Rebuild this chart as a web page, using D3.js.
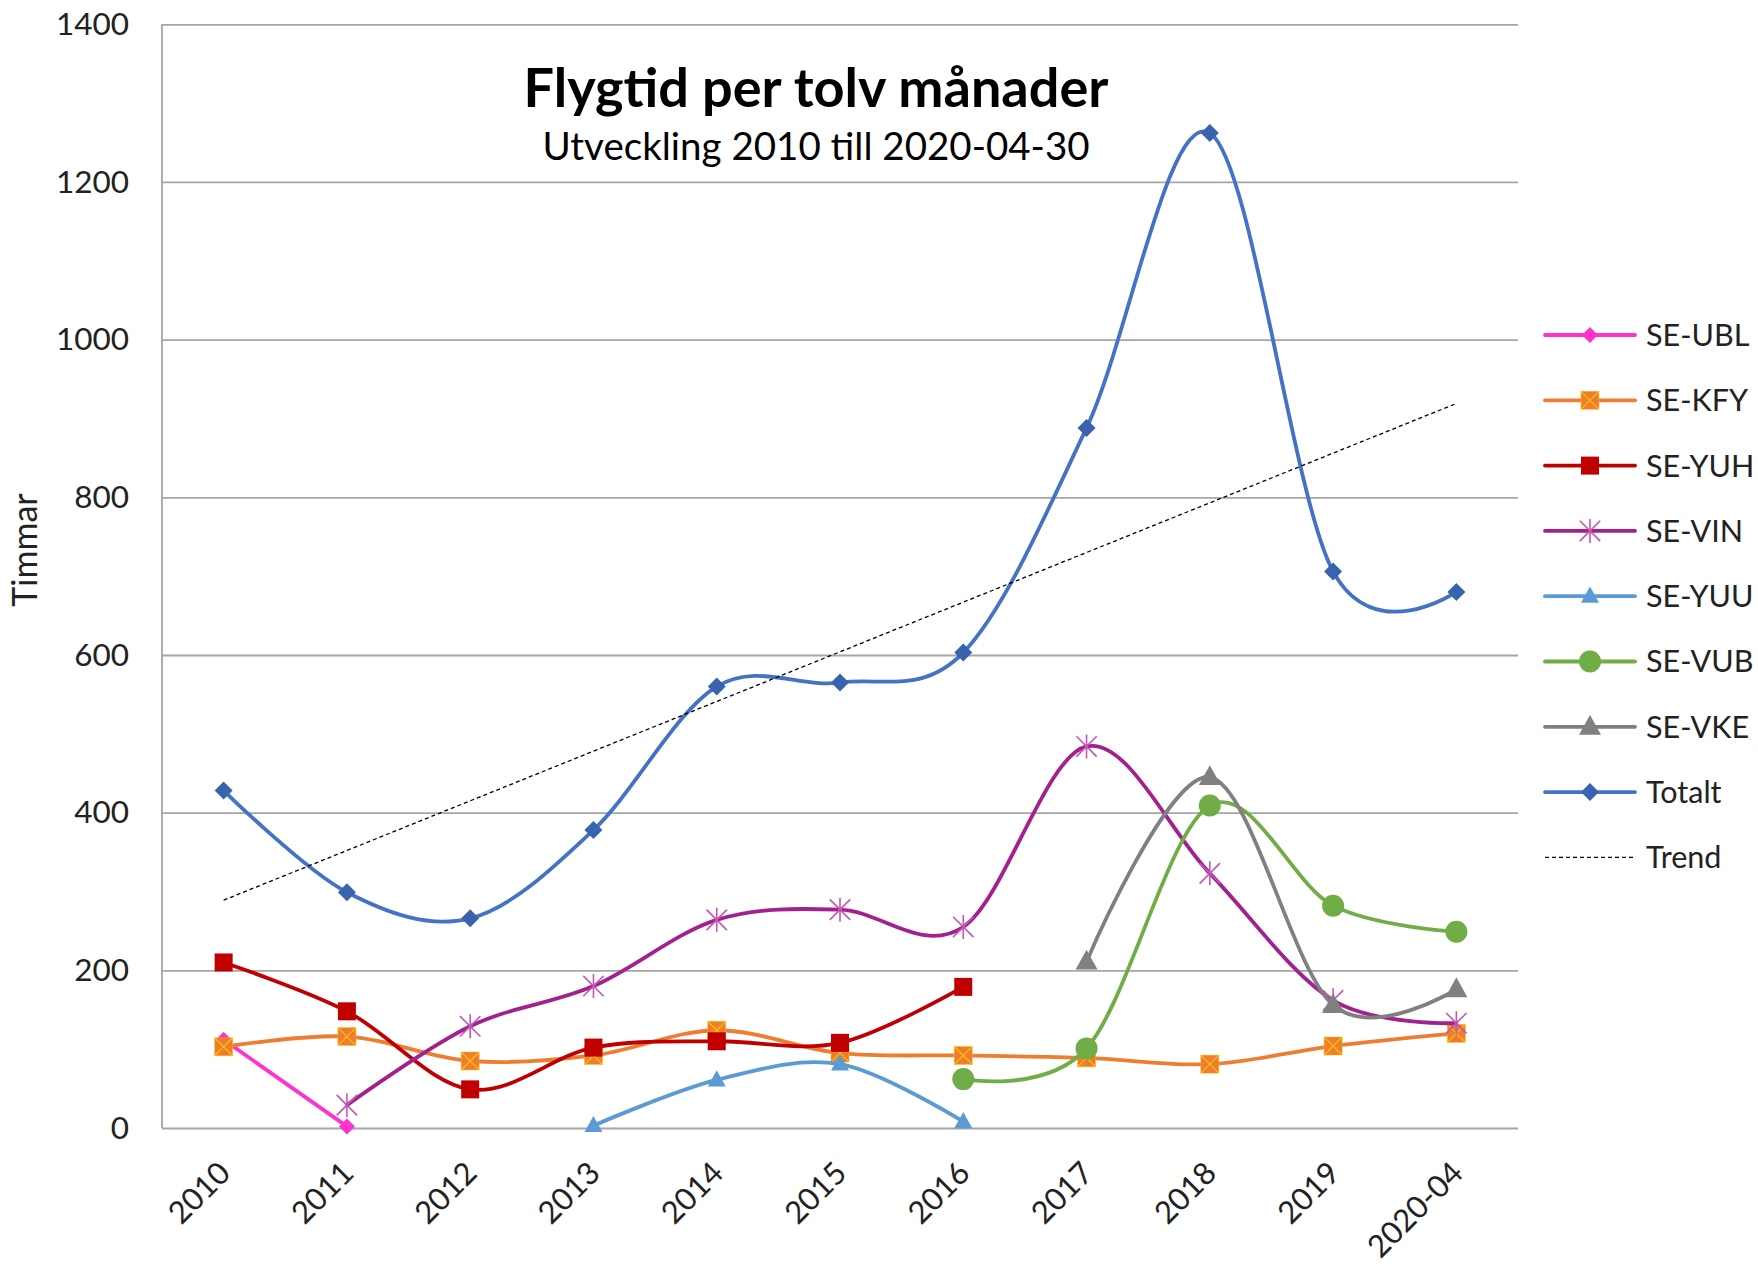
<!DOCTYPE html>
<html>
<head>
<meta charset="utf-8">
<script src="https://cdn.jsdelivr.net/npm/d3@7"></script>
<style>
  html, body { margin: 0; padding: 0; background: #fff; }
  svg { display: block; font-family: Lato, "Open Sans", sans-serif; }
</style>
</head>
<body>
<svg id="chart" width="1758" height="1268"></svg>
<script>
// ---------- data ----------
const categories = ["2010", "2011", "2012", "2013", "2014", "2015", "2016", "2017", "2018", "2019", "2020-04"];
const yTicks = [0, 200, 400, 600, 800, 1000, 1200, 1400];
const seUBL  = [112, 2, null, null, null, null, null, null, null, null, null];
const seKFY  = [103, 116, 85, 92, 124, 95, 92, 89, 81, 104, 120];
const seYUH  = [210, 148, 49, 102, 110, 108, 179, null, null, null, null];
const seVIN  = [null, 29, 129, 180, 264, 277, 255, 484, 323, 162, 133];
const seYUU  = [null, null, null, 3, 61, 81, 8, null, null, null, null];
const seVUB  = [null, null, null, null, null, null, 62, 101, 409, 282, 249];
const seVKE  = [null, null, null, null, null, null, null, 211, 445, 156, 176];
const totalt = [428, 299, 266, 378, 560, 565, 603, 888, 1262, 706, 680];
const trendEnds = [289, 919];            // linear trend of Totalt, value at 2010 and at 2020-04
const seriesNames = ["SE-UBL", "SE-KFY", "SE-YUH", "SE-VIN", "SE-YUU", "SE-VUB", "SE-VKE", "Totalt"];
const titleText = "Flygtid per tolv månader";
const subtitleText = "Utveckling 2010 till 2020-04-30";
const yLabel = "Timmar";
const trendName = "Trend";

// ---------- styling ----------
const seriesValues = [seUBL, seKFY, seYUH, seVIN, seYUU, seVUB, seVKE, totalt];
const styles = [
  { color: "#FF33CC", marker: "diamond",  mfill: "#FF33CC", ms: 8 },
  { color: "#ED7D31", marker: "squareX",  mfill: "#ED7D31", ms: 9, xcolor: "#FFC000" },
  { color: "#C00000", marker: "square",   mfill: "#C00000", ms: 9 },
  { color: "#A2218F", marker: "star",     mfill: "#C457B4", ms: 12 },
  { color: "#5B9BD5", marker: "triangle", mfill: "#5B9BD5", ms: 9 },
  { color: "#70AD47", marker: "circle",   mfill: "#70AD47", ms: 11 },
  { color: "#808080", marker: "triangle", mfill: "#808080", ms: 11 },
  { color: "#4472C4", marker: "diamond",  mfill: "#3A63AD", ms: 9 }
];

const W = 1758, H = 1268;
const m = { left: 162, right: 1518, top: 24.3, bottom: 1128 };
const svg = d3.select("#chart");

const x = d3.scalePoint().domain(categories).range([m.left, m.right]).padding(0.5);
const y = d3.scaleLinear().domain([0, 1400]).range([m.bottom, m.top]);

// gridlines + y labels
const yAxis = d3.axisLeft(y).tickValues(yTicks).tickSize(-(m.right - m.left)).tickPadding(33).tickFormat(d3.format("d"));
const gy = svg.append("g").attr("transform", `translate(${m.left},0)`).call(yAxis);
gy.select(".domain").remove();
gy.selectAll(".tick line").attr("stroke", "#A6A6A6").attr("stroke-width", 1.8);
gy.selectAll(".tick text").attr("font-size", 31.5).attr("fill", "#222").attr("font-family", "Lato");

// left axis line
svg.append("line").attr("x1", m.left).attr("x2", m.left).attr("y1", m.top).attr("y2", m.bottom)
  .attr("stroke", "#A6A6A6").attr("stroke-width", 1.8);

// x labels
const xAxis = d3.axisBottom(x).tickSize(0).tickPadding(0);
const gx = svg.append("g").attr("transform", `translate(0,${m.bottom})`).call(xAxis);
gx.select(".domain").remove();
gx.selectAll(".tick text")
  .attr("font-size", 31).attr("fill", "#222").attr("font-family", "Lato")
  .attr("text-anchor", "end")
  .attr("dy", 0)
  .attr("transform", "translate(8,47) rotate(-45)");

// y title
svg.append("text").attr("transform", `translate(37,550) rotate(-90)`)
  .attr("text-anchor", "middle").attr("font-size", 34).attr("fill", "#222").text(yLabel);

// title
svg.append("text").attr("x", 816).attr("y", 107).attr("text-anchor", "middle")
  .attr("font-size", 54).attr("font-weight", 700).attr("fill", "#000").text(titleText);
svg.append("text").attr("x", 816).attr("y", 160).attr("text-anchor", "middle")
  .attr("font-size", 38.5).attr("fill", "#000").text(subtitleText);

// markers
function drawMarker(g, st, cx, cy) {
  const s = st.ms;
  if (st.marker === "diamond") {
    g.append("path").attr("d", `M${cx},${cy - s}L${cx + s},${cy}L${cx},${cy + s}L${cx - s},${cy}Z`).attr("fill", st.mfill);
  } else if (st.marker === "square" || st.marker === "squareX") {
    g.append("rect").attr("x", cx - s).attr("y", cy - s).attr("width", 2 * s).attr("height", 2 * s).attr("fill", st.mfill);
    if (st.marker === "squareX") {
      g.append("path").attr("d", `M${cx - s},${cy - s}L${cx + s},${cy + s}M${cx + s},${cy - s}L${cx - s},${cy + s}`)
        .attr("stroke", st.xcolor).attr("stroke-width", 1.2).attr("fill", "none");
      g.append("rect").attr("x", cx - s).attr("y", cy - s).attr("width", 2 * s).attr("height", 2 * s)
        .attr("fill", "none").attr("stroke", st.xcolor).attr("stroke-width", 0.8).attr("stroke-opacity", 0.6);
    }
  } else if (st.marker === "triangle") {
    const h = s * 1.8;
    g.append("path").attr("d", `M${cx},${cy - h * 0.6}L${cx + s},${cy + h * 0.4}L${cx - s},${cy + h * 0.4}Z`).attr("fill", st.mfill);
  } else if (st.marker === "circle") {
    g.append("circle").attr("cx", cx).attr("cy", cy).attr("r", s).attr("fill", st.mfill);
  } else if (st.marker === "star") {
    const d = s * 0.85;
    g.append("path").attr("d", `M${cx - d},${cy - d}L${cx + d},${cy + d}M${cx + d},${cy - d}L${cx - d},${cy + d}M${cx},${cy - s}L${cx},${cy + s}`)
      .attr("stroke", st.mfill).attr("stroke-width", 1.6).attr("fill", "none");
  }
}

const line = d3.line()
  .defined(d => d.v != null)
  .x(d => x(d.c)).y(d => y(d.v))
  .curve(d3.curveCardinal.tension(0));

const plot = svg.append("g");
seriesValues.forEach((vals, i) => {
  const st = styles[i];
  const data = categories.map((c, j) => ({ c, v: vals[j] })).filter(d => d.v != null);
  const g = plot.append("g");
  g.append("path").datum(data).attr("d", line).attr("fill", "none")
    .attr("stroke", st.color).attr("stroke-width", 3.8).attr("stroke-linejoin", "round").attr("stroke-linecap", "round");
  data.forEach(d => drawMarker(g, st, x(d.c), y(d.v)));
});

// trend
svg.append("line")
  .attr("x1", x(categories[0])).attr("y1", y(trendEnds[0]))
  .attr("x2", x(categories[categories.length - 1])).attr("y2", y(trendEnds[1]))
  .attr("stroke", "#000").attr("stroke-width", 1.3).attr("stroke-dasharray", "4,3");

// legend
const lg = svg.append("g");
const legendTop = 335, legendStep = 65.3, lx1 = 1545, lx2 = 1635, ltx = 1646;
seriesNames.forEach((name, i) => {
  const st = styles[i];
  const yy = legendTop + i * legendStep;
  const g = lg.append("g");
  g.append("line").attr("x1", lx1).attr("x2", lx2).attr("y1", yy).attr("y2", yy)
    .attr("stroke", st.color).attr("stroke-width", 3.8).attr("stroke-linecap", "round");
  drawMarker(g, st, (lx1 + lx2) / 2, yy);
  g.append("text").attr("x", ltx).attr("y", yy).attr("dy", "0.36em").attr("font-size", 30.5).attr("fill", "#222").text(name);
});
{
  const yy = legendTop + seriesNames.length * legendStep;
  lg.append("line").attr("x1", lx1).attr("x2", lx2).attr("y1", yy).attr("y2", yy)
    .attr("stroke", "#000").attr("stroke-width", 1.3).attr("stroke-dasharray", "4,3");
  lg.append("text").attr("x", ltx).attr("y", yy).attr("dy", "0.36em").attr("font-size", 30.5).attr("fill", "#222").text(trendName);
}
</script>
</body>
</html>
